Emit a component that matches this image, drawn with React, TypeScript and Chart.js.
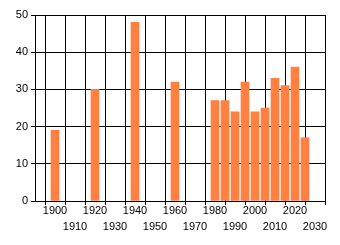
import React, { useEffect, useRef } from "react";
import { Chart, registerables } from "chart.js";

Chart.register(...registerables);

const years = [1900, 1920, 1940, 1960, 1980, 1985, 1990, 1995, 2000, 2005, 2010, 2015, 2020, 2025];
const values = [19, 30, 48, 32, 27, 27, 24, 32, 24, 25, 33, 31, 36, 17];
const xTicks = [1900, 1910, 1920, 1930, 1940, 1950, 1960, 1970, 1980, 1990, 2000, 2010, 2020, 2030];
const xMin = 1890;
const xMax = 2035;
const yMin = 0;
const yMax = 50;

export default function App() {
  const ref = useRef<HTMLCanvasElement | null>(null);
  useEffect(() => {
    document.body.style.margin = "0";
    const ctx = ref.current!;
    const chart = new Chart(ctx, {
      type: "bar",
      data: {
        datasets: [
          {
            data: years.map((y, i) => ({ x: y, y: values[i] })),
            backgroundColor: "rgb(255,128,64)",
            borderWidth: 0,
            barThickness: 8,
          },
        ],
      },
      options: {
        animation: false,
        responsive: false,
        maintainAspectRatio: false,
        layout: { padding: { left: 0, right: 15, top: 15, bottom: 0 } },
        plugins: { legend: { display: false }, tooltip: { enabled: false } },
        scales: {
          x: {
            type: "linear",
            min: xMin,
            max: xMax,
            offset: false,
            afterBuildTicks: (axis: any) => {
              axis.ticks = xTicks.map((v) => ({ value: v }));
            },
            afterFit: (axis: any) => {
              axis.height = 44;
            },
            ticks: {
              autoSkip: false,
              maxRotation: 0,
              color: "#000",
              font: { family: "Liberation Sans", size: 11, lineHeight: 1.45 },
              padding: -2,
              callback: (v: any) => {
                const n = Number(v);
                return (n / 10) % 2 === 0 ? String(n) : ["", String(n)];
              },
            },
            grid: { color: "#000", lineWidth: 1, tickLength: 4, drawOnChartArea: true },
            border: { color: "#000", width: 1 },
          },
          y: {
            min: yMin,
            max: yMax,
            afterFit: (axis: any) => {
              axis.width = 35;
            },
            ticks: {
              stepSize: 10,
              color: "#000",
              font: { family: "Liberation Sans", size: 11 },
              padding: 3,
            },
            grid: { color: "#000", lineWidth: 1, tickLength: 4 },
            border: { color: "#000", width: 1 },
          },
        },
      },
    });
    return () => chart.destroy();
  }, []);
  return <canvas ref={ref} width={340} height={245} style={{ display: "block" }} />;
}
